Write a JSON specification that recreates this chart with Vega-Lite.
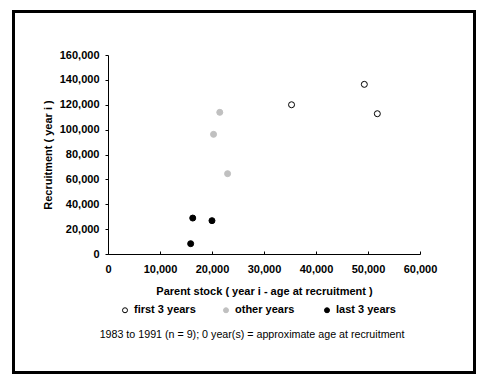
{
  "$schema": "https://vega.github.io/schema/vega-lite/v6.json",
  "width": 461,
  "height": 361,
  "autosize": "none",
  "padding": {"left": 13.5, "top": 11.5, "right": 9.5, "bottom": 12.5},
  "background": "white",
  "config": {
    "view": {"stroke": "black", "strokeWidth": 3},
    "font": "Liberation Sans",
    "axis": {
      "translate": 0,
      "grid": false,
      "labelFlush": false,
      "labelOverlap": false,
      "domainColor": "black",
      "tickColor": "black",
      "labelColor": "black",
      "titleColor": "black",
      "labelFont": "Liberation Sans",
      "titleFont": "Liberation Sans",
      "labelFontWeight": "bold",
      "labelFontSize": 11,
      "titleFontSize": 11,
      "titleFontWeight": "bold"
    }
  },
  "title": {
    "text": "1983 to 1991 (n = 9); 0 year(s) = approximate age at recruitment",
    "orient": "bottom",
    "frame": "group",
    "anchor": "middle",
    "offset": -43,
    "dx": 8,
    "font": "Liberation Sans",
    "fontSize": 10.7,
    "fontWeight": "normal",
    "color": "black"
  },
  "data": {
    "values": [
      {"group": "first 3 years", "stock": 35200, "recruitment": 120400},
      {"group": "first 3 years", "stock": 49200, "recruitment": 136800},
      {"group": "first 3 years", "stock": 51700, "recruitment": 113200},
      {"group": "other years", "stock": 21400, "recruitment": 114300},
      {"group": "other years", "stock": 20200, "recruitment": 96600},
      {"group": "other years", "stock": 22900, "recruitment": 65000},
      {"group": "last 3 years", "stock": 16200, "recruitment": 29300},
      {"group": "last 3 years", "stock": 19900, "recruitment": 27200},
      {"group": "last 3 years", "stock": 15800, "recruitment": 8700}
    ]
  },
  "mark": {"type": "point", "filled": true, "size": 36, "strokeWidth": 1, "opacity": 1},
  "encoding": {
    "x": {
      "field": "stock",
      "type": "quantitative",
      "scale": {"domain": [0, 60000], "range": [95, 407], "nice": false, "zero": false},
      "axis": {
        "title": "Parent stock ( year i - age at recruitment )",
        "values": [0, 10000, 20000, 30000, 40000, 50000, 60000],
        "format": ",.0f",
        "offset": -118,
        "tickSize": -3,
        "labelPadding": 12,
        "titlePadding": 11
      }
    },
    "y": {
      "field": "recruitment",
      "type": "quantitative",
      "scale": {"domain": [0, 160000], "range": [243, 44], "nice": false, "zero": false},
      "axis": {
        "title": "Recruitment ( year i )",
        "values": [0, 20000, 40000, 60000, 80000, 100000, 120000, 140000, 160000],
        "format": ",.0f",
        "offset": -95,
        "tickSize": 3,
        "labelPadding": 6,
        "titlePadding": 6
      }
    },
    "fill": {
      "field": "group",
      "type": "nominal",
      "scale": {"domain": ["first 3 years", "other years", "last 3 years"], "range": ["white", "#c0c0c0", "black"]},
      "legend": {
        "title": null,
        "orient": "none",
        "legendX": 106,
        "legendY": 293,
        "direction": "horizontal",
        "columns": 3,
        "gridAlign": "all",
        "columnPadding": 24,
        "padding": 0,
        "symbolType": "circle",
        "symbolSize": 25,
        "symbolStrokeWidth": 1,
        "labelOffset": 3.5,
        "labelFont": "Liberation Sans",
        "labelFontSize": 11,
        "labelFontWeight": "bold",
        "labelColor": "black"
      }
    },
    "stroke": {
      "field": "group",
      "type": "nominal",
      "scale": {"domain": ["first 3 years", "other years", "last 3 years"], "range": ["black", "#c0c0c0", "black"]}
    }
  }
}
